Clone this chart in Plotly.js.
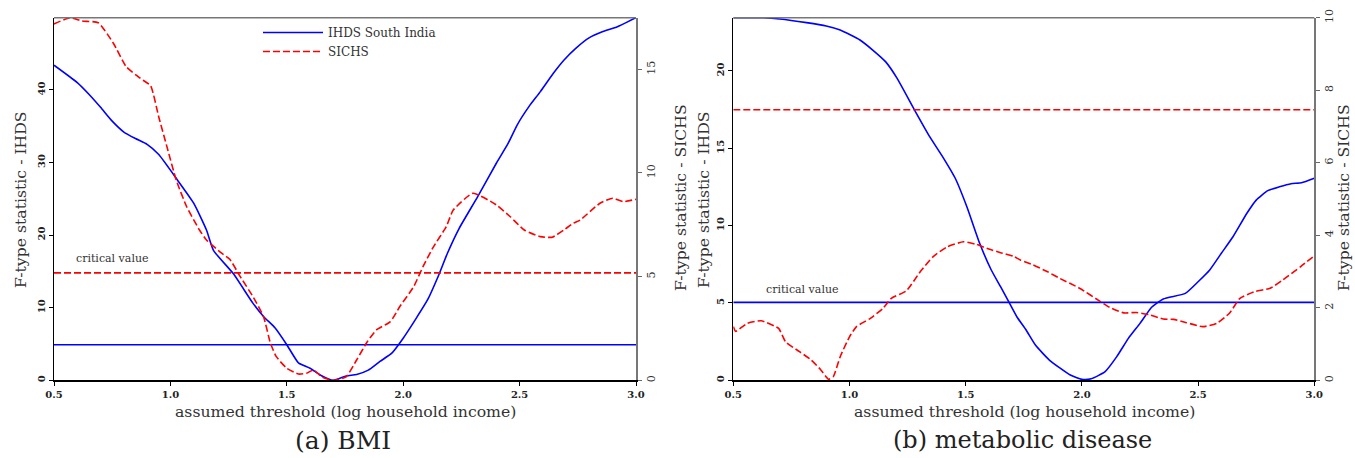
<!DOCTYPE html>
<html>
<head>
<meta charset="utf-8">
<script src="https://cdn.plot.ly/plotly-3.0.1.min.js"></script>
<style>html,body{margin:0;padding:0;background:#fff;}#chart{width:1355px;height:458px;}</style>
</head>
<body>
<div id="chart"></div>
<script>
// ---- Panel (a) BMI ----
const bmiIhdsX = [0.5,0.6,0.65,0.7,0.75,0.8,0.85,0.9,0.95,1.03,1.1,1.155,1.185,1.27,1.355,1.4,1.45,1.5,1.55,1.6,1.645,1.7,1.755,1.8,1.85,1.9,1.95,2.0,2.055,2.105,2.15,2.19,2.24,2.32,2.4,2.45,2.49,2.54,2.59,2.645,2.69,2.74,2.8,2.855,2.92,3.0];
const bmiIhdsY = [43.4,41.0,39.4,37.6,35.7,34.2,33.3,32.5,31.1,27.6,24.4,20.7,17.9,14.7,10.6,8.8,7.2,4.9,2.4,1.65,0.7,0.0,0.6,0.8,1.4,2.6,3.7,5.8,8.5,11.1,14.3,17.5,20.9,25.3,29.9,32.6,35.2,37.7,39.8,42.3,44.1,45.7,47.2,48.0,48.7,49.95];
const bmiSichsX = [0.5,0.57,0.62,0.69,0.755,0.81,0.87,0.915,0.95,0.985,1.025,1.07,1.125,1.155,1.22,1.255,1.3,1.355,1.4,1.43,1.455,1.5,1.55,1.585,1.615,1.65,1.7,1.755,1.8,1.845,1.885,1.945,1.985,2.045,2.085,2.13,2.185,2.215,2.3,2.4,2.46,2.52,2.59,2.64,2.69,2.73,2.76,2.845,2.9,2.945,3.0];
const bmiSichsY = [17.19,17.49,17.33,17.25,16.26,15.13,14.57,14.2,12.7,11.27,9.66,8.37,7.25,6.77,6.13,5.84,5.0,4.03,3.07,1.78,1.14,0.58,0.3,0.34,0.5,0.17,0.0,0.17,0.98,1.85,2.43,2.83,3.55,4.52,5.48,6.44,7.41,8.21,9.02,8.46,7.89,7.25,6.93,6.9,7.25,7.57,7.73,8.54,8.78,8.62,8.73];
const bmiIhdsCrit = 4.9;
const bmiSichsCrit = 5.18;

// ---- Panel (b) metabolic disease ----
const metIhdsX = [0.5,0.63,0.7,0.815,0.9,0.96,1.045,1.1,1.155,1.205,1.28,1.345,1.405,1.455,1.505,1.56,1.61,1.65,1.685,1.72,1.76,1.8,1.86,1.95,2.0,2.04,2.1,2.15,2.2,2.25,2.3,2.35,2.445,2.5,2.55,2.6,2.65,2.71,2.75,2.8,2.85,2.9,2.945,3.0];
const metIhdsY = [23.44,23.44,23.36,23.12,22.9,22.64,22.0,21.35,20.6,19.52,17.47,15.75,14.35,13.06,11.22,8.86,7.13,6.05,5.08,4.11,3.25,2.28,1.31,0.34,0.06,0.1,0.56,1.53,2.71,3.68,4.72,5.26,5.62,6.37,7.13,8.21,9.28,10.8,11.65,12.26,12.51,12.71,12.77,13.06];
const metSichsX = [0.5,0.51,0.56,0.62,0.695,0.725,0.785,0.835,0.875,0.91,0.93,0.96,1.0,1.03,1.09,1.145,1.18,1.245,1.305,1.36,1.42,1.49,1.545,1.6,1.65,1.705,1.735,1.79,1.85,1.905,1.99,2.08,2.12,2.18,2.235,2.295,2.35,2.395,2.45,2.52,2.58,2.635,2.68,2.74,2.81,2.865,2.94,3.0];
const metSichsY = [1.48,1.35,1.57,1.64,1.43,1.06,0.79,0.56,0.30,0.03,0.1,0.65,1.2,1.48,1.71,1.99,2.26,2.47,3.0,3.41,3.68,3.82,3.75,3.62,3.52,3.42,3.32,3.18,3.0,2.81,2.54,2.17,2.01,1.86,1.87,1.8,1.69,1.68,1.59,1.48,1.57,1.85,2.26,2.44,2.54,2.77,3.13,3.43];
const metIhdsCrit = 5.04;
const metSichsCrit = 7.46;

const xRange = [0.5, 3.0];
const xTicks = [0.5, 1.0, 1.5, 2.0, 2.5, 3.0];
const seriesNames = ['IHDS South India', 'SICHS'];
const captions = ['(a) BMI', '(b) metabolic disease'];
const xTitle = 'assumed threshold (log household income)';
const yTitleIhds = 'F-type statistic - IHDS';
const yTitleSichs = 'F-type statistic - SICHS';
const critLabel = 'critical value';

const BLUE = '#0000ff', RED = '#ff0000';
const SERIF = 'DejaVu Serif';
const blueLine = {color: BLUE, width: 1.6};
const redLine = {color: RED, width: 1.6, dash: '7px,3px'};

const traces = [
  {x: bmiIhdsX, y: bmiIhdsY, xaxis: 'x', yaxis: 'y', mode: 'lines', name: seriesNames[0], line: Object.assign({shape: 'spline', smoothing: 0.5}, blueLine), showlegend: true},
  {x: bmiSichsX, y: bmiSichsY, xaxis: 'x', yaxis: 'y2', mode: 'lines', name: seriesNames[1], line: Object.assign({shape: 'spline', smoothing: 0.5}, redLine), showlegend: true},
  {x: xRange, y: [bmiIhdsCrit, bmiIhdsCrit], xaxis: 'x', yaxis: 'y', mode: 'lines', line: blueLine, showlegend: false},
  {x: xRange, y: [bmiSichsCrit, bmiSichsCrit], xaxis: 'x', yaxis: 'y2', mode: 'lines', line: redLine, showlegend: false},
  {x: metIhdsX, y: metIhdsY, xaxis: 'x2', yaxis: 'y3', mode: 'lines', line: Object.assign({shape: 'spline', smoothing: 0.5}, blueLine), showlegend: false},
  {x: metSichsX, y: metSichsY, xaxis: 'x2', yaxis: 'y4', mode: 'lines', line: Object.assign({shape: 'spline', smoothing: 0.5}, redLine), showlegend: false},
  {x: xRange, y: [metIhdsCrit, metIhdsCrit], xaxis: 'x2', yaxis: 'y3', mode: 'lines', line: blueLine, showlegend: false},
  {x: xRange, y: [metSichsCrit, metSichsCrit], xaxis: 'x2', yaxis: 'y4', mode: 'lines', line: redLine, showlegend: false}
];

const W = 1355, H = 458;
const domA = [54 / W, 636 / W];
const domB = [733.3 / W, 1314.3 / W];
const domY = [(H - 380.3) / H, (H - 17.7) / H];

function xAxis(dom, anchor) {
  return {domain: dom, anchor: anchor, range: xRange, tickvals: xTicks, tickformat: '.1f',
    ticks: 'outside', ticklen: 4, tickwidth: 1, tickcolor: '#000',
    showline: true, linecolor: '#000', linewidth: 1.5, showgrid: false, zeroline: false,
    tickfont: {family: SERIF, size: 10, color: '#222', weight: 'bold'}};
}
function yLeft(anchor, range, dtick) {
  return {domain: domY, anchor: anchor, range: range, dtick: dtick, tick0: 0, tickangle: -90,
    ticks: 'outside', ticklen: 4, tickcolor: '#000', showline: true, linecolor: '#000', linewidth: 1.5,
    showgrid: false, zeroline: false,
    tickfont: {family: SERIF, size: 10, color: '#222', weight: 'bold'}};
}
function yRight(over, anchor, range, dtick) {
  return {overlaying: over, side: 'right', anchor: anchor, range: range, dtick: dtick, tick0: 0, tickangle: -90,
    ticks: 'outside', ticklen: 4, tickcolor: '#666', showline: true, linecolor: '#777', linewidth: 1.5,
    showgrid: false, zeroline: false,
    tickfont: {family: SERIF, size: 11, color: '#333'}};
}

const titleFont = {family: SERIF, size: 15.7, color: '#333'};
const annotations = [
  {xref: 'paper', yref: 'paper', x: 20 / W, y: (H - 200) / H, text: yTitleIhds, textangle: -90, showarrow: false, font: titleFont, xanchor: 'center', yanchor: 'middle'},
  {xref: 'paper', yref: 'paper', x: 680 / W, y: (H - 198) / H, text: yTitleSichs, textangle: -90, showarrow: false, font: titleFont, xanchor: 'center', yanchor: 'middle'},
  {xref: 'paper', yref: 'paper', x: 703 / W, y: (H - 200) / H, text: yTitleIhds, textangle: -90, showarrow: false, font: titleFont, xanchor: 'center', yanchor: 'middle'},
  {xref: 'paper', yref: 'paper', x: 1343 / W, y: (H - 198) / H, text: yTitleSichs, textangle: -90, showarrow: false, font: titleFont, xanchor: 'center', yanchor: 'middle'},
  {xref: 'paper', yref: 'paper', x: 345 / W, y: (H - 411) / H, text: xTitle, showarrow: false, font: titleFont, xanchor: 'center', yanchor: 'middle'},
  {xref: 'paper', yref: 'paper', x: 1024 / W, y: (H - 411) / H, text: xTitle, showarrow: false, font: titleFont, xanchor: 'center', yanchor: 'middle'},
  {xref: 'paper', yref: 'paper', x: 343 / W, y: (H - 440) / H, text: captions[0], showarrow: false, font: {family: SERIF, size: 25, color: '#222'}, xanchor: 'center', yanchor: 'middle'},
  {xref: 'paper', yref: 'paper', x: 1022 / W, y: (H - 440) / H, text: captions[1], showarrow: false, font: {family: SERIF, size: 24, color: '#222'}, xanchor: 'center', yanchor: 'middle'},
  {xref: 'x', yref: 'y', x: 0.586, y: 16.8, text: critLabel, showarrow: false, font: {family: SERIF, size: 11, color: '#333'}, xanchor: 'left', yanchor: 'middle'},
  {xref: 'x2', yref: 'y3', x: 0.632, y: 5.84, text: critLabel, showarrow: false, font: {family: SERIF, size: 11, color: '#333'}, xanchor: 'left', yanchor: 'middle'}
];

const shapes = [
  {type: 'line', xref: 'x domain', yref: 'y domain', x0: 0, x1: 1, y0: 1, y1: 1, line: {color: '#777', width: 1.5}},
  {type: 'line', xref: 'x2 domain', yref: 'y3 domain', x0: 0, x1: 1, y0: 1, y1: 1, line: {color: '#777', width: 1.5}}
];

const layout = {
  width: W, height: H,
  margin: {l: 0, r: 0, t: 0, b: 0, pad: 0},
  paper_bgcolor: '#fff', plot_bgcolor: '#fff',
  showlegend: true,
  legend: {x: 258 / W, y: (H - 18) / H, xanchor: 'left', yanchor: 'top', bgcolor: 'rgba(0,0,0,0)',
    font: {family: SERIF, size: 12, color: '#333'}, tracegroupgap: 0, itemwidth: 60},
  xaxis: xAxis(domA, 'y'),
  yaxis: yLeft('x', [0, 49.95], 10),
  yaxis2: yRight('y', 'x', [0, 17.49], 5),
  xaxis2: xAxis(domB, 'y3'),
  yaxis3: yLeft('x2', [0, 23.44], 5),
  yaxis4: yRight('y3', 'x2', [0, 10], 2),
  annotations: annotations,
  shapes: shapes
};

Plotly.newPlot('chart', traces, layout, {staticPlot: true, displayModeBar: false});
</script>
</body>
</html>
